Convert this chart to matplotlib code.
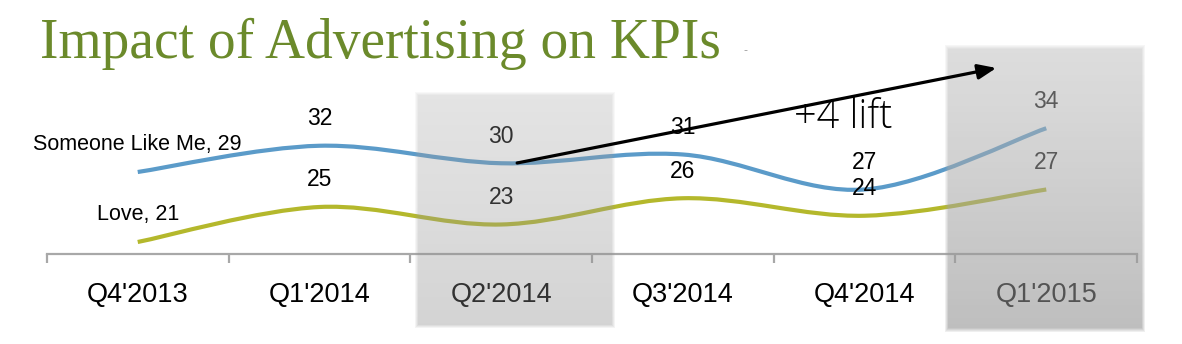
"""Impact of advertising on KPIs: smoothed quarterly lines with highlighted quarters."""

import matplotlib
matplotlib.use("Agg")
import matplotlib.pyplot as plt
from matplotlib.path import Path
from matplotlib.patches import PathPatch
import numpy as np

quarters = ["Q4'2013", "Q1'2014", "Q2'2014", "Q3'2014", "Q4'2014", "Q1'2015"]
someone_like_me = [29, 32, 30, 31, 27, 34]
love = [21, 25, 23, 26, 24, 27]
series_names = ["Someone Like Me", "Love"]
lift_label = "+4 lift"

BLUE = "#5b9bc9"
GREEN = "#b4b82c"
TITLE_GREEN = "#6b8a2b"
AXIS_GREY = "#a8a8a8"


def smooth_path(xs, ys):
    # Catmull-Rom style bezier, like the "smoothed line" option in office charts
    pts = np.column_stack([xs, ys]).astype(float)
    n = len(pts)
    verts = [pts[0]]
    codes = [Path.MOVETO]
    for i in range(n - 1):
        p0 = pts[i - 1] if i > 0 else pts[i]
        p1, p2 = pts[i], pts[i + 1]
        p3 = pts[i + 2] if i + 2 < n else pts[i + 1]
        verts += [p1 + (p2 - p0) / 6, p2 - (p3 - p1) / 6, p2]
        codes += [Path.CURVE4] * 3
    return Path(verts, codes)


def shade_box(ax, x0, x1, y0, y1, a_top, a_bot, g_top, g_bot, soft=4):
    h, w = 240, 200
    ramp = np.linspace(0, 1, h)[:, None] * np.ones((1, w))
    alpha = a_top + (a_bot - a_top) * ramp
    grey = g_top + (g_bot - g_top) * ramp
    yy, xx = np.mgrid[0:h, 0:w]
    edge = np.minimum.reduce([xx, w - 1 - xx, yy, h - 1 - yy]).astype(float)
    alpha *= np.clip((edge + 1) / soft, 0, 1)
    img = np.zeros((h, w, 4))
    img[..., 0] = img[..., 1] = img[..., 2] = grey
    img[..., 3] = alpha
    ax.imshow(img, extent=(x0, x1, y0, y1), origin="upper", aspect="auto",
              interpolation="bilinear", zorder=10)


fig = plt.figure(figsize=(11.82, 3.44), dpi=100)
ax = fig.add_axes([0, 0, 1, 1])
ax.set_facecolor("white")

x = np.arange(len(quarters))
for vals, name, color in [(someone_like_me, series_names[0], BLUE),
                          (love, series_names[1], GREEN)]:
    ax.add_patch(PathPatch(smooth_path(x, vals), facecolor="none", edgecolor=color,
                           lw=3.0, capstyle="butt", zorder=3))
    for i, v in enumerate(vals):
        txt = f"{name}, {v}" if i == 0 else str(v)
        size = 15.5 if i == 0 else 16.5
        ax.annotate(txt, (x[i], v), xytext=(0, 19.5), textcoords="offset points",
                    ha="center", va="center", fontsize=size,
                    family="Liberation Sans", color="black", zorder=4)

# x axis with category boundaries as ticks
axis_y = 19.63
for s in ["top", "right", "left"]:
    ax.spines[s].set_visible(False)
ax.spines["bottom"].set_position(("data", axis_y))
ax.spines["bottom"].set_bounds(-0.5, len(quarters) - 0.5)
ax.spines["bottom"].set_color(AXIS_GREY)
ax.spines["bottom"].set_linewidth(1.6)
ax.set_yticks([])
ax.set_xticks(np.arange(-0.5, len(quarters)))
ax.set_xticklabels([])
ax.tick_params(axis="x", which="major", length=6.5, width=1.6, color=AXIS_GREY,
               direction="out")
ax.set_xticks(x, minor=True)
ax.set_xticklabels(quarters, minor=True, fontsize=19.5, family="Liberation Sans")
ax.tick_params(axis="x", which="minor", length=0, pad=20.5)

# highlighted quarters
shade_box(ax, 1.527, 2.626, 11.17, 38.14, 0.30, 0.37, 0.65, 0.54)
shade_box(ax, 4.44, 5.538, 10.71, 43.51, 0.50, 0.58, 0.74, 0.56)

# lift arrow
ax.annotate("", xy=(4.725, 40.89), xytext=(2.088, 30.03),
            arrowprops=dict(arrowstyle="-|>,head_length=1.1,head_width=0.45",
                            color="black", lw=2.3, shrinkA=0, shrinkB=0),
            zorder=12)
ax.text(3.885, 35.2, lift_label, ha="center", va="center", fontsize=28.5,
        family="Open Sans", fontweight="light", color="black", zorder=12)

fig.text(40 / 1182, 1 - 58 / 344, "Impact of Advertising on KPIs", ha="left",
         va="baseline", fontsize=40, family="Liberation Serif", color=TITLE_GREEN)
fig.text(745 / 1182, 1 - 50 / 344, "-", ha="center", va="center", fontsize=8,
         color="#999999")

ax.set_xlim(-0.758, 5.747)
ax.set_ylim(9.34, 48.66)
fig.savefig("out.png", dpi=100)
plt.close(fig)
